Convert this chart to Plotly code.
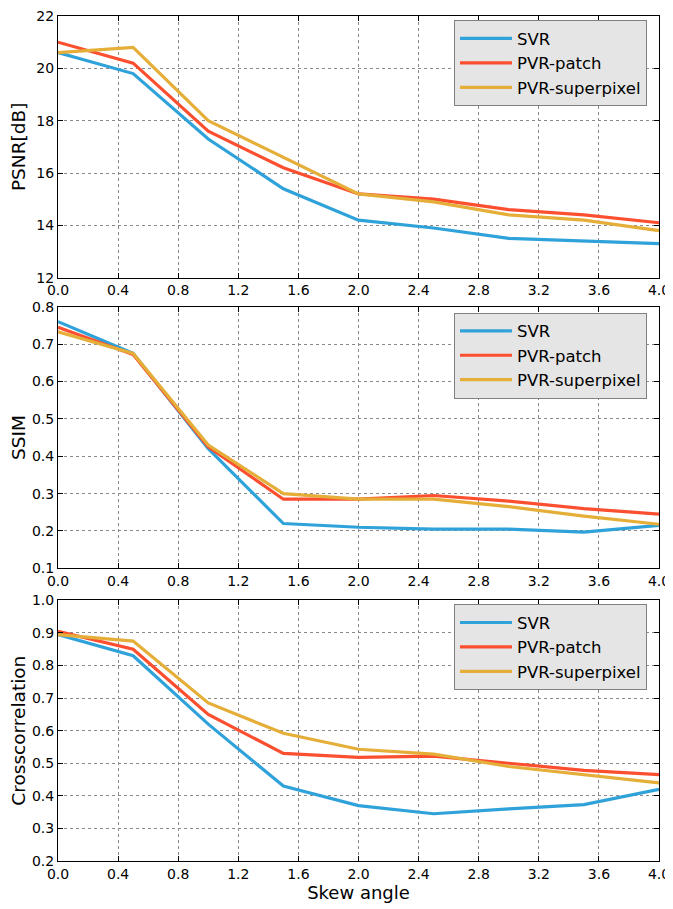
import plotly.graph_objects as go
from plotly.subplots import make_subplots

skew = [0.0, 0.5, 1.0, 1.5, 2.0, 2.5, 3.0, 3.5, 4.0]

psnr_svr = [20.6, 19.8, 17.3, 15.4, 14.2, 13.9, 13.5, 13.4, 13.3]
psnr_patch = [21.0, 20.2, 17.6, 16.2, 15.2, 15.0, 14.6, 14.4, 14.1]
psnr_super = [20.6, 20.8, 18.0, 16.6, 15.2, 14.9, 14.4, 14.2, 13.8]

ssim_svr = [0.76, 0.675, 0.42, 0.22, 0.21, 0.205, 0.205, 0.197, 0.215]
ssim_patch = [0.745, 0.672, 0.425, 0.285, 0.285, 0.295, 0.28, 0.26, 0.245]
ssim_super = [0.733, 0.675, 0.43, 0.30, 0.285, 0.285, 0.265, 0.24, 0.218]

cc_svr = [0.895, 0.83, 0.62, 0.43, 0.37, 0.345, 0.36, 0.373, 0.42]
cc_patch = [0.905, 0.85, 0.65, 0.53, 0.518, 0.522, 0.50, 0.478, 0.465]
cc_super = [0.895, 0.875, 0.685, 0.592, 0.543, 0.528, 0.49, 0.466, 0.44]

names = ["SVR", "PVR-patch", "PVR-superpixel"]
colors = ["#30a2da", "#fc4f30", "#e5ae38"]
y_titles = ["PSNR[dB]", "SSIM", "Crosscorrelation"]
panels = [
    [psnr_svr, psnr_patch, psnr_super],
    [ssim_svr, ssim_patch, ssim_super],
    [cc_svr, cc_patch, cc_super],
]
y_ranges = [[12, 22], [0.1, 0.8], [0.2, 1.0]]
y_dticks = [2, 0.1, 0.1]
y_formats = [".0f", ".1f", ".1f"]
legend_names = ["legend", "legend2", "legend3"]

fig = make_subplots(rows=3, cols=1)

for i, series in enumerate(panels):
    for j, vals in enumerate(series):
        fig.add_trace(
            go.Scatter(
                x=skew, y=vals, mode="lines", name=names[j],
                line=dict(color=colors[j], width=3.2),
                legend=legend_names[i],
            ),
            row=i + 1, col=1,
        )

font = "DejaVu Sans"
domains = [[0.6903, 1.0], [0.3463, 0.6560], [0.0, 0.3085]]
axis_common = dict(
    showline=True, linecolor="black", linewidth=1, mirror="ticks",
    ticks="inside", ticklen=5, tickcolor="black",
    showgrid=True, gridcolor="#8a8a8a", griddash="dot", gridwidth=1,
    zeroline=False, tickfont=dict(family=font, size=14, color="black"),
    automargin=False, ticklabeloverflow="allow",
)
for i in range(3):
    xa = "xaxis" if i == 0 else f"xaxis{i+1}"
    ya = "yaxis" if i == 0 else f"yaxis{i+1}"
    fig.layout[xa].update(
        range=[0, 4], dtick=0.4, tick0=0, tickformat=".1f", ticklabelstandoff=0,
        **axis_common
    )
    fig.layout[ya].update(
        range=y_ranges[i], dtick=y_dticks[i], tick0=0, tickformat=y_formats[i],
        domain=domains[i],
        title=dict(text=y_titles[i], font=dict(family=font, size=18.5, color="black"), standoff=6),
        **axis_common,
    )
fig.layout["xaxis3"].title = dict(text="Skew angle", font=dict(family=font, size=18, color="black"), standoff=2)

legend_y = [0.995, 0.649, 0.3038]
leg_common = dict(
    x=0.98, xanchor="right", yanchor="top",
    bgcolor="#e5e5e5", bordercolor="#808080", borderwidth=1,
    font=dict(family=font, size=16.5, color="black"),
    tracegroupgap=0, itemwidth=52,
)
fig.update_layout(
    legend=dict(y=legend_y[0], **leg_common),
    legend2=dict(y=legend_y[1], **leg_common),
    legend3=dict(y=legend_y[2], **leg_common),
)

fig.update_layout(
    width=665, height=901,
    margin=dict(l=50, r=14, t=8, b=48),
    plot_bgcolor="white", paper_bgcolor="white",
    font=dict(family=font, color="black"),
)

fig.write_html("out.html")
